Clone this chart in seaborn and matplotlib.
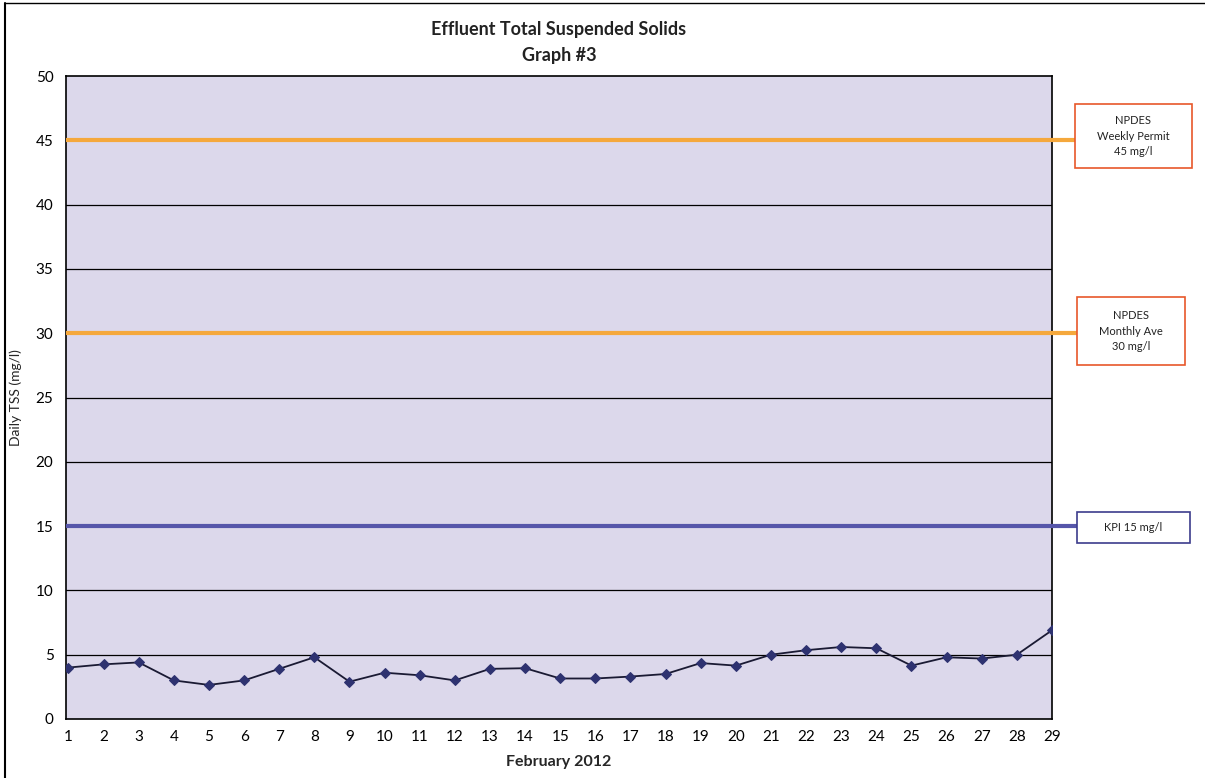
import matplotlib
matplotlib.use("Agg")
import matplotlib.pyplot as plt
import matplotlib.patches as mpatches
import seaborn as sns
import pandas as pd

days = list(range(1, 30))
tss = [4.0, 4.25, 4.4, 3.0, 2.65, 3.0, 3.9, 4.8, 2.9, 3.6, 3.4, 3.0, 3.9, 3.95,
       3.15, 3.15, 3.3, 3.5, 4.35, 4.15, 5.0, 5.35, 5.6, 5.5, 4.15, 4.8, 4.7, 5.0, 6.9]
limit_values = [45, 30, 15]
limit_labels = ["NPDES\nWeekly Permit\n45 mg/l", "NPDES\nMonthly Ave\n30 mg/l", "KPI 15 mg/l"]
limit_colors = ["#F5A83C", "#F5A83C", "#5656AA"]
box_edges = ["#E8572A", "#E8572A", "#3C3C8C"]
yticks = list(range(0, 55, 5))

sns.set_style("white")
plt.rcParams['font.family'] = ['Lato', 'DejaVu Sans']

W, H = 1205, 778
fig = plt.figure(figsize=(W / 100, H / 100), dpi=100)
ax = fig.add_axes([66 / W, 1 - 719 / H, (1052 - 66) / W, (719 - 76) / H])
ax.set_facecolor("#DCD8EB")

df = pd.DataFrame({"day": days, "tss": tss})

for yv in yticks[1:-1]:
    ax.axhline(yv, color="black", lw=0.9, zorder=1)

sns.lineplot(data=df, x="day", y="tss", ax=ax, color="#1A1A33", lw=1.3,
             marker="D", markersize=5, markerfacecolor="#2E3270",
             markeredgecolor="#2E3270", zorder=5)

# limit lines extended to boxes
box_geom = [(1075, 104, 1192, 168), (1077, 297, 1185, 365), (1077, 512, 1190, 543)]
for val, lab, col, ec, (x0, y0, x1, y1) in zip(limit_values, limit_labels, limit_colors, box_edges, box_geom):
    ax.plot([0, (x0 - 66) / (1052 - 66)], [val, val], color=col, lw=3,
            transform=ax.get_yaxis_transform(), clip_on=False, zorder=4,
            solid_capstyle="butt")
    rect = mpatches.Rectangle((x0 / W, 1 - y1 / H), (x1 - x0) / W, (y1 - y0) / H,
                              transform=fig.transFigure, facecolor="white",
                              edgecolor=ec, lw=1.2)
    fig.patches.append(rect)
    fig.text((x0 + x1) / 2 / W, 1 - (y0 + y1) / 2 / H, lab, ha="center", va="center",
             fontsize=8, color="#222222", linespacing=1.5)

ax.set_xlim(0.93, 29)
ax.set_ylim(0, 50)
ax.set_yticks(yticks)
ax.set_xticks(days)
ax.tick_params(axis="both", direction="out", length=5, width=1, colors="black",
               labelsize=11, pad=4)
ax.tick_params(axis="x", length=4)
for s in ax.spines.values():
    s.set_color("black")
    s.set_linewidth(1.2)

ax.set_xlabel("February 2012", fontsize=11.5, fontweight="bold", labelpad=8)
ax.set_ylabel("Daily TSS (mg/l)", fontsize=10, labelpad=10)
fig.text(559 / W, 1 - 30 / H, "Effluent Total Suspended Solids", ha="center",
         va="center", fontsize=13, fontweight="bold", color="#222222")
fig.text(559 / W, 1 - 55 / H, "Graph #3", ha="center", va="center",
         fontsize=13, fontweight="bold", color="#222222")

# page frame lines
fig.add_artist(plt.Line2D([5 / W, 5 / W], [0, 1 - 3 / H], transform=fig.transFigure,
                          color="black", lw=1.5))
fig.add_artist(plt.Line2D([5 / W, 1], [1 - 3 / H, 1 - 3 / H], transform=fig.transFigure,
                          color="black", lw=1.0))

fig.savefig("out.png", dpi=100, facecolor="white")
